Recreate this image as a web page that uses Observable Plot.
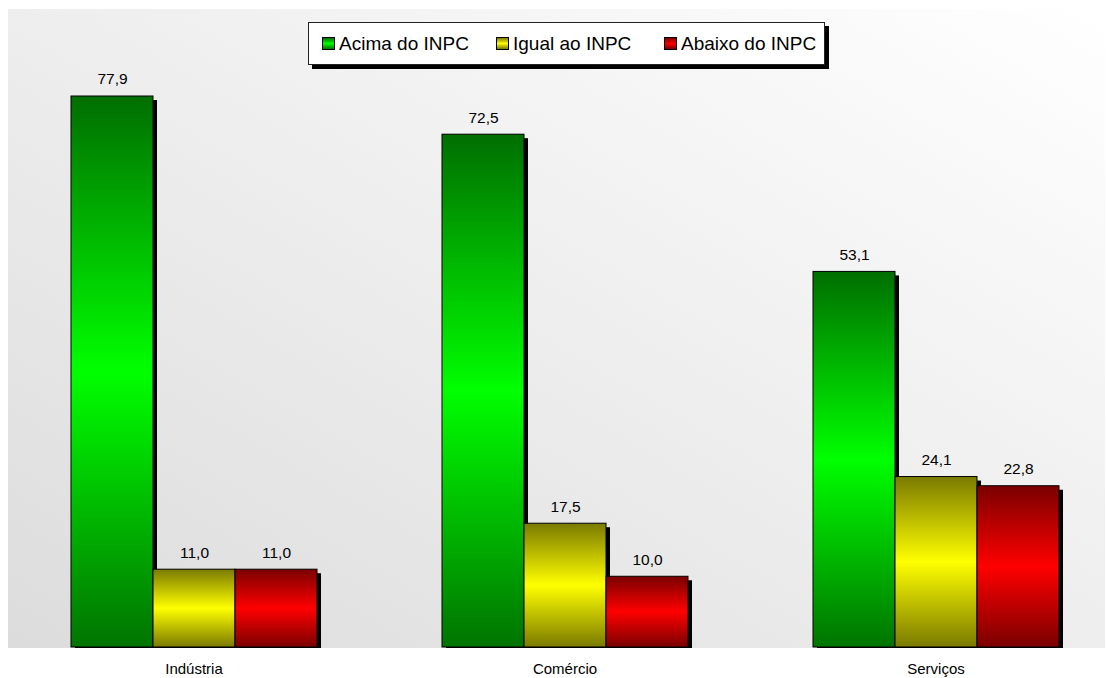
<!DOCTYPE html>
<html><head><meta charset="utf-8">
<script src="https://cdn.jsdelivr.net/npm/d3@7"></script>
<script src="https://cdn.jsdelivr.net/npm/@observablehq/plot@0.6"></script>
<style>
html,body{margin:0;padding:0;background:#fff;}
#wrap{position:relative;width:1106px;height:678px;font-family:"Liberation Sans",Arial,sans-serif;overflow:hidden;}
#legend{position:absolute;left:308px;top:22px;width:517px;height:43px;border:1px solid #222;background:#fff;box-shadow:4px 4px 0 #000;box-sizing:border-box;font-size:19px;color:#000;}
#legend .it{position:absolute;top:0;height:41px;display:flex;align-items:center;white-space:nowrap;}
#legend .sw{display:inline-block;width:13px;height:13px;border:1px solid #000;margin-right:4px;box-sizing:border-box;}
</style>
</head><body>
<div id="wrap"><div id="chart"></div><div id="legend"></div></div>
<script>
const categories = ["Indústria", "Comércio", "Serviços"];
const series = ["Acima do INPC", "Igual ao INPC", "Abaixo do INPC"];
const acima = [77.9, 72.5, 53.1];
const igual = [11.0, 17.5, 24.1];
const abaixo = [11.0, 10.0, 22.8];

const seriesValues = [acima, igual, abaixo];
const gradIds = ["gGreen", "gYellow", "gRed"];
const gradColors = [["#006e00", "#00ff00", "#007400"], ["#7a7a00", "#ffff00", "#7a7a00"], ["#7a0000", "#ff0000", "#7a0000"]];

const data = [];
categories.forEach((c, i) => series.forEach((s, j) => data.push({cat: c, s, v: seriesValues[j][i]})));
const fmt = v => d3.format(".1f")(v).replace(".", ",");

const W = 1106, H = 678, mT = 9, mB = 31;
const plot = Plot.plot({
  width: W, height: H,
  marginTop: mT, marginBottom: mB, marginLeft: 8, marginRight: 1,
  style: {fontFamily: "'Liberation Sans', Arial, sans-serif", fontSize: "15px", color: "#000", background: "transparent"},
  fx: {domain: categories, range: [8, 1121], padding: 0, label: null, axis: "bottom", tickSize: 0, tickPadding: 16},
  x: {domain: series, axis: null, paddingInner: 0, paddingOuter: 0.753},
  y: {domain: [0, 90.2], axis: null},
  marks: [
    Plot.barY(data, {fx: "cat", x: "s", y: "v", fill: "#000", dx: 4, dy: 4, insetBottom: 3}),
    ...series.map((s, j) => Plot.barY(data.filter(d => d.s === s), {fx: "cat", x: "s", y: "v", fill: `url(#${gradIds[j]})`, stroke: "#000", strokeWidth: 1})),
    Plot.text(data, {fx: "cat", x: "s", y: "v", text: d => fmt(d.v), dy: -17, lineAnchor: "middle", fontSize: 15.5, fill: "#000"})
  ]
});

const NS = "http://www.w3.org/2000/svg";
const defs = document.createElementNS(NS, "defs");
gradIds.forEach((id, j) => {
  const g = document.createElementNS(NS, "linearGradient");
  g.setAttribute("id", id); g.setAttribute("x1", "0"); g.setAttribute("y1", "0"); g.setAttribute("x2", "0"); g.setAttribute("y2", "1");
  [[0, 0], [0.5, 1], [1, 2]].forEach(([o, k]) => {
    const st = document.createElementNS(NS, "stop");
    st.setAttribute("offset", o); st.setAttribute("stop-color", gradColors[j][k]);
    g.appendChild(st);
  });
  defs.appendChild(g);
});
const bg = document.createElementNS(NS, "linearGradient");
bg.setAttribute("id", "bgGrad"); bg.setAttribute("x1", "1"); bg.setAttribute("y1", "0"); bg.setAttribute("x2", "0"); bg.setAttribute("y2", "1");
[["0", "#ffffff"], ["1", "#dcdcdc"]].forEach(([o, c]) => {
  const st = document.createElementNS(NS, "stop");
  st.setAttribute("offset", o); st.setAttribute("stop-color", c); bg.appendChild(st);
});
defs.appendChild(bg);
const bgRect = document.createElementNS(NS, "rect");
bgRect.setAttribute("x", 8); bgRect.setAttribute("y", mT);
bgRect.setAttribute("width", W - 8 - 1); bgRect.setAttribute("height", H - mT - mB + 1);
bgRect.setAttribute("fill", "url(#bgGrad)");
const svg = plot.tagName.toLowerCase() === "svg" ? plot : plot.querySelector("svg");
const firstG = Array.from(svg.children).find(n => n.tagName.toLowerCase() !== "style");
svg.insertBefore(defs, firstG);
svg.insertBefore(bgRect, firstG);
document.getElementById("chart").appendChild(plot);

const legend = document.getElementById("legend");
const itemX = [13, 187, 355];
series.forEach((s, j) => {
  const it = document.createElement("div");
  it.className = "it"; it.style.left = itemX[j] + "px";
  const sw = document.createElement("span");
  sw.className = "sw";
  sw.style.background = `linear-gradient(to bottom, ${gradColors[j][0]}, ${gradColors[j][1]} 50%, ${gradColors[j][2]})`;
  it.appendChild(sw);
  it.appendChild(document.createTextNode(s));
  legend.appendChild(it);
});
</script>
</body></html>
